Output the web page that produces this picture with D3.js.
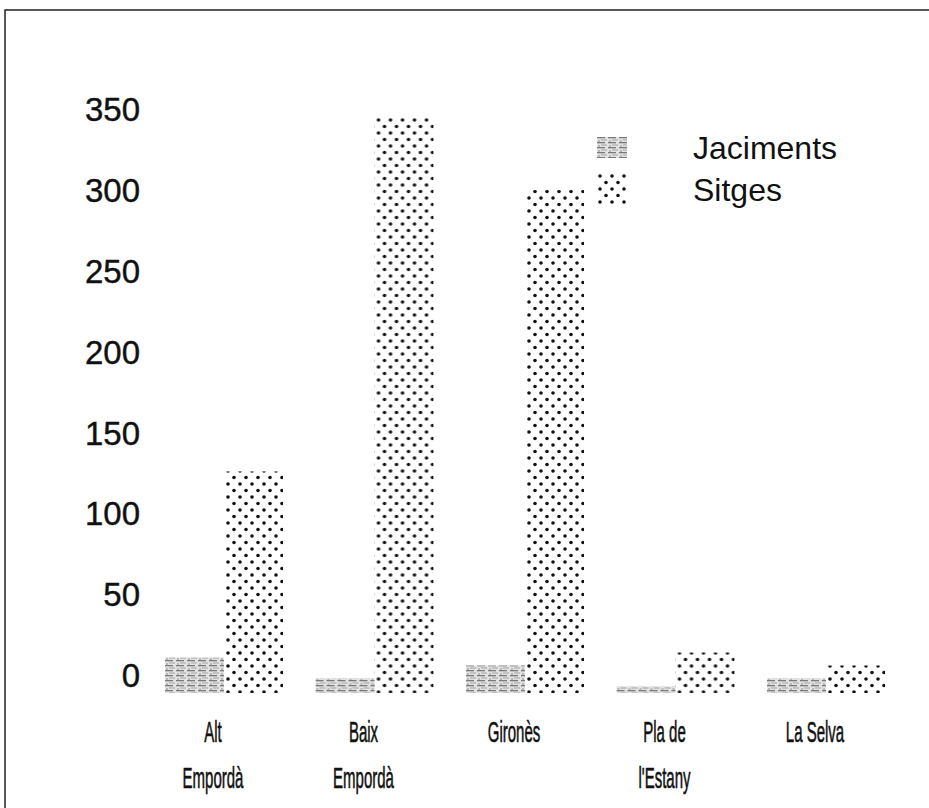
<!DOCTYPE html>
<html>
<head>
<meta charset="utf-8">
<script src="https://cdn.jsdelivr.net/npm/d3@7"></script>
<style>
  html, body { margin: 0; padding: 0; background: #fff; }
  svg { display: block; }
  text { font-family: "Liberation Sans", Arial, Helvetica, sans-serif; fill: #111; }
</style>
</head>
<body>
<svg id="chart" width="929" height="808"></svg>
<script>
// ---- data ----
const categories = [["Alt", "Empordà"], ["Baix", "Empordà"], ["Gironès"], ["Pla de", "l'Estany"], ["La Selva"]];
const series = ["Jaciments", "Sitges"];
const jaciments = [22, 9, 17, 4, 9];
const sitges = [137, 356, 311, 25, 17];
const yTicks = [0, 50, 100, 150, 200, 250, 300, 350];

const svg = d3.select("#chart");
const defs = svg.append("defs");

// dotted pattern (Sitges)
const pDots = defs.append("pattern").attr("id", "dots")
  .attr("patternUnits", "userSpaceOnUse").attr("width", 12).attr("height", 13);
pDots.append("circle").attr("cx", 3).attr("cy", 3).attr("r", 1.8).attr("fill", "#111");
pDots.append("circle").attr("cx", 9).attr("cy", 9.5).attr("r", 1.8).attr("fill", "#111");

// grey streaky pattern (Jaciments)
const pGrey = defs.append("pattern").attr("id", "grey")
  .attr("patternUnits", "userSpaceOnUse").attr("width", 11).attr("height", 5);
pGrey.append("rect").attr("width", 11).attr("height", 5).attr("fill", "#e2e2e2");
pGrey.append("rect").attr("x", 0).attr("y", 0).attr("width", 8).attr("height", 1.3).attr("fill", "#7a7a7a");
pGrey.append("rect").attr("x", 4).attr("y", 2.5).attr("width", 6).attr("height", 1).attr("fill", "#a4a4a4");
pGrey.append("rect").attr("x", 1).attr("y", 3.5).attr("width", 2).attr("height", 1).attr("fill", "#8e8e8e");

const fills = { "Jaciments": "url(#grey)", "Sitges": "url(#dots)" };

// frame
svg.append("path").attr("d", "M5,808 L5,10 L929,10")
  .attr("fill", "none").attr("stroke", "#222").attr("stroke-width", 1.5);

// scales
const y = d3.scaleLinear().domain([0, 350]).range([693, 693 - 350 * 1.617]);
const x = d3.scaleBand().domain(d3.range(categories.length))
  .range([148.75, 901.25]).paddingInner(0.216).paddingOuter(0.108);
const xs = d3.scaleBand().domain(series).range([0, x.bandwidth()]);

// y axis labels
const yAxis = d3.axisLeft(y).tickValues(yTicks).tickSize(0).tickPadding(0);
const gy = svg.append("g").attr("transform", "translate(140,-17)").call(yAxis);
gy.select(".domain").remove();
gy.selectAll("text").style("font-size", "33px").attr("fill", "#111")
  .style("font-family", "'Liberation Sans', Arial, sans-serif")
  .attr("stroke", "#111").attr("stroke-width", 0.4);

// bars
const rows = categories.map((c, i) => ({ i, vals: { "Jaciments": jaciments[i], "Sitges": sitges[i] } }));
const groups = svg.append("g").selectAll("g").data(rows).join("g")
  .attr("transform", d => `translate(${x(d.i)},0)`);
groups.selectAll("rect").data(d => series.map(s => ({ s, v: d.vals[s] }))).join("rect")
  .attr("x", d => xs(d.s)).attr("width", xs.bandwidth())
  .attr("y", d => y(d.v)).attr("height", d => y(0) - y(d.v))
  .attr("fill", d => fills[d.s]);

// category labels (condensed)
const lab = svg.append("g").selectAll("g").data(rows).join("g")
  .attr("transform", d => `translate(${x(d.i) + x.bandwidth() / 2 - 11},0)`);
lab.each(function (d) {
  const g = d3.select(this);
  categories[d.i].forEach((line, k) => {
    g.append("text")
      .attr("transform", `translate(0,${742 + k * 46}) scale(0.5,1)`)
      .attr("text-anchor", "middle")
      .style("font-size", "30px")
      .attr("stroke", "#111").attr("stroke-width", 0.6)
      .text(line);
  });
});

// legend
const leg = svg.append("g").selectAll("g").data(series).join("g")
  .attr("transform", (d, i) => `translate(597,${137 + i * 36})`);
leg.append("rect").attr("width", 30).attr("height", (d, i) => i === 0 ? 21 : 32)
  .attr("fill", d => fills[d]);
leg.append("text").attr("x", 96).attr("y", (d, i) => i === 0 ? 22 : 28)
  .style("font-size", "32px").text(d => d);
</script>
</body>
</html>
